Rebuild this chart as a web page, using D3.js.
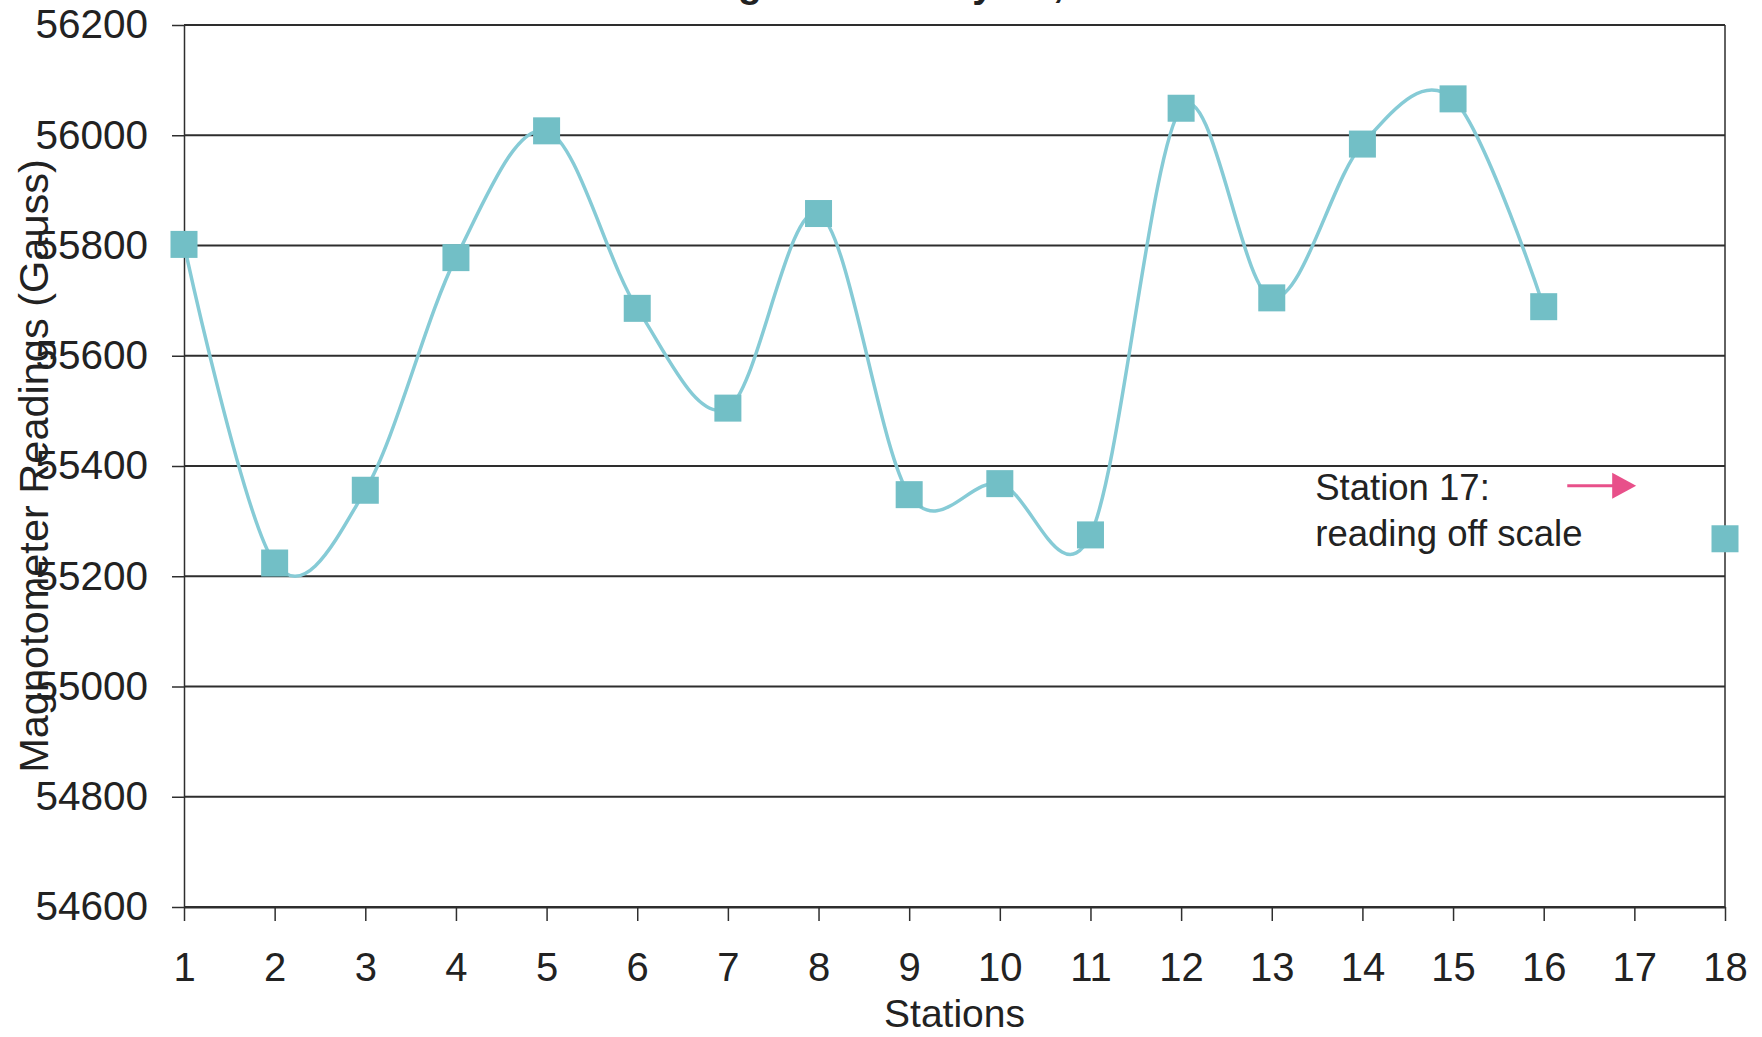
<!DOCTYPE html>
<html>
<head>
<meta charset="utf-8">
<script src="https://cdn.jsdelivr.net/npm/d3@7"></script>
<style>
  html, body { margin: 0; padding: 0; background: #ffffff; overflow: hidden; }
  svg { display: block; }
  text { font-family: "Liberation Sans", Arial, sans-serif; fill: #222; }
</style>
</head>
<body>
<script>
// ---- data ----
const stations = [1, 2, 3, 4, 5, 6, 7, 8, 9, 10, 11, 12, 13, 14, 15, 16, 17, 18];
const readings = [55802, 55224, 55356, 55778, 56008, 55686, 55505, 55858, 55348, 55368,
                  55275, 56049, 55705, 55984, 56066, 55689, null, 55268];
const yTicks = [54600, 54800, 55000, 55200, 55400, 55600, 55800, 56000, 56200];
const xTicks = stations;
const titleText = "Magnetic Survey A1, Line B";
const yTitle = "Magnotometer Readings (Gauss)";
const xTitle = "Stations";
const noteLines = ["Station 17:", "reading off scale"];

(function () {
// ---- layout ----
const W = 1762, H = 1037;
const pLeft = 184, pRight = 1725, pTop = 25, pBottom = 907;

const svg = d3.select("body").append("svg").attr("width", W).attr("height", H);

const x = d3.scaleLinear().domain([1, 18]).range([pLeft, pRight]);
const y = d3.scaleLinear().domain([54600, 56200]).range([pBottom, pTop]);

const gridColor = "#2e2e2e";

// gridlines
svg.append("g").selectAll("line").data(yTicks).join("line")
  .attr("x1", pLeft).attr("x2", pRight)
  .attr("y1", d => y(d)).attr("y2", d => y(d))
  .attr("stroke", gridColor).attr("stroke-width", 1.8);

// right border
svg.append("line").attr("x1", pRight).attr("x2", pRight).attr("y1", pTop).attr("y2", pBottom)
  .attr("stroke", gridColor).attr("stroke-width", 1.5);

// y axis
const yAxis = svg.append("g").attr("transform", `translate(${pLeft},0)`)
  .call(d3.axisLeft(y).tickValues(yTicks).tickSize(12).tickSizeOuter(0).tickPadding(24).tickFormat(d3.format("d")));
yAxis.select(".domain").attr("stroke", gridColor).attr("stroke-width", 1.5);
yAxis.selectAll(".tick line").attr("stroke", gridColor).attr("stroke-width", 1.5);
yAxis.selectAll(".tick text").attr("font-size", 40.5).attr("fill", "#222")
  .style("font-family", '"Liberation Sans", Arial, sans-serif');

// x axis
const xAxis = svg.append("g").attr("transform", `translate(0,${pBottom})`)
  .call(d3.axisBottom(x).tickValues(xTicks).tickSize(14).tickSizeOuter(0).tickFormat(d3.format("d")));
xAxis.select(".domain").attr("stroke", gridColor).attr("stroke-width", 1.8);
xAxis.selectAll(".tick line").attr("stroke", gridColor).attr("stroke-width", 1.5);
xAxis.selectAll(".tick text").attr("font-size", 40).attr("fill", "#222")
  .attr("y", 74).attr("dy", 0)
  .style("font-family", '"Liberation Sans", Arial, sans-serif');

// axis titles
svg.append("text").attr("x", (pLeft + pRight) / 2).attr("y", 1027)
  .attr("text-anchor", "middle").attr("font-size", 39).text(xTitle);
svg.append("text").attr("transform", "translate(48,466) rotate(-90)")
  .attr("text-anchor", "middle").attr("font-size", 41.5).text(yTitle);

// chart title (mostly cut off at top, as in the original)
const t = svg.append("text").attr("x", 0).attr("y", -3)
  .attr("font-size", 39).attr("font-weight", "bold").text(titleText);
try {
  const n = t.node();
  const gx = n.getStartPositionOfChar(2).x;
  const gw = n.getEndPositionOfChar(2).x - gx;
  t.attr("x", 750 - (gx + gw / 2));
} catch (e) { t.attr("x", 690); }

// smoothed line
const pts = stations.map((s, i) => ({ s, v: readings[i] }));
const line = d3.line()
  .defined(d => d.v !== null)
  .x(d => x(d.s)).y(d => y(d.v))
  .curve(d3.curveCardinal.tension(0));
svg.append("path").datum(pts.slice(0, 16)).attr("d", line)
  .attr("fill", "none").attr("stroke", "#86cbd6").attr("stroke-width", 3.5);

// markers
const ms = 27;
svg.append("g").selectAll("rect").data(pts.filter(d => d.v !== null)).join("rect")
  .attr("x", d => x(d.s) - ms / 2).attr("y", d => y(d.v) - ms / 2)
  .attr("width", ms).attr("height", ms)
  .attr("fill", "#72bfc6");

// annotation
const noteX = 13.48;
const noteY = [55338, 55255];
svg.append("g").selectAll("text").data(noteLines).join("text")
  .attr("x", x(noteX)).attr("y", (d, i) => y(noteY[i]))
  .attr("font-size", 36.5).text(d => d);

const arrowY = y(55364);
const ax0 = x(16.26), ax1 = x(17.02);
svg.append("line").attr("x1", ax0).attr("x2", ax1 - 20).attr("y1", arrowY).attr("y2", arrowY)
  .attr("stroke", "#e8508a").attr("stroke-width", 3);
svg.append("path")
  .attr("d", `M${ax1 - 24},${arrowY - 13} L${ax1},${arrowY} L${ax1 - 24},${arrowY + 13} Z`)
  .attr("fill", "#e8508a");
})();
</script>
</body>
</html>
